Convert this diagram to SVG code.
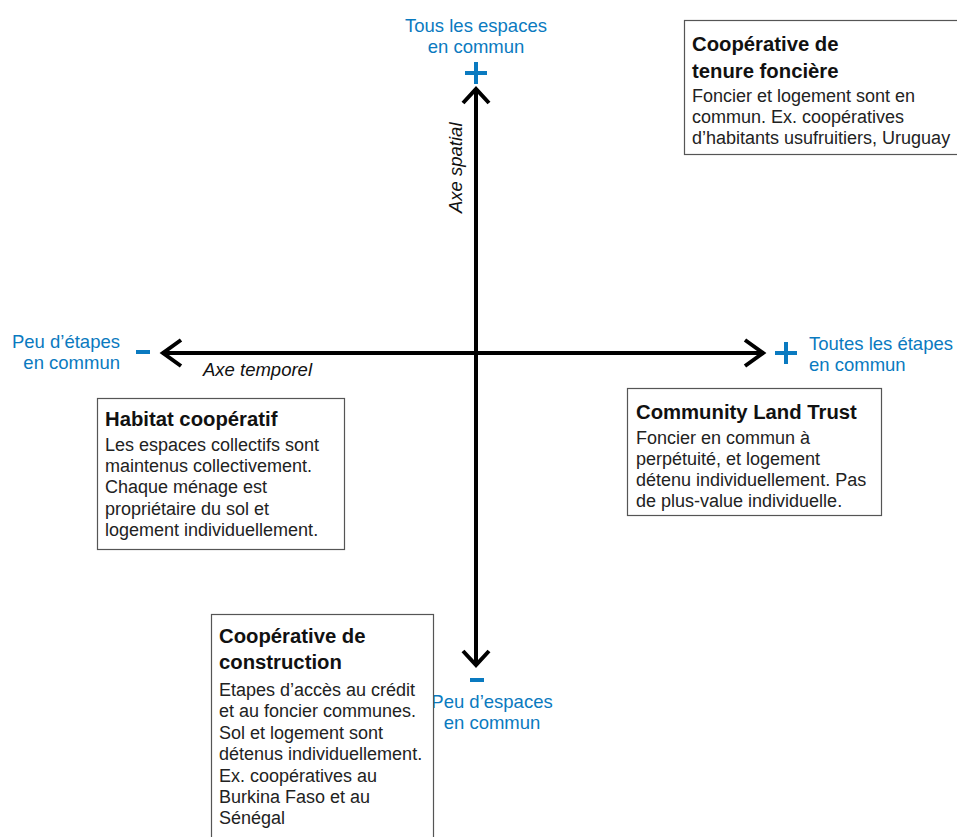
<svg xmlns="http://www.w3.org/2000/svg" width="957" height="837" viewBox="0 0 957 837">
<style>
.bg{fill:#ffffff}
.axis{stroke:#000;stroke-width:4;fill:none;stroke-linecap:butt}
.head{stroke:#000;stroke-width:4;fill:none;stroke-linecap:butt;stroke-linejoin:miter}
.sign{fill:#0a7ac0}
.blue{font-family:"Liberation Sans",Arial,sans-serif;font-size:18.5px;fill:#0a7ac0}
.ax{font-family:"Liberation Sans",Arial,sans-serif;font-size:18.5px;font-style:italic;fill:#111}
.box{fill:#fff;stroke:#555;stroke-width:1.2}
.title{font-family:"Liberation Sans",Arial,sans-serif;font-size:20.3px;font-weight:bold;fill:#111}
.body{font-family:"Liberation Sans",Arial,sans-serif;font-size:18px;fill:#222}
</style>
<rect class="bg" x="0" y="0" width="957" height="837"/>

<g id="connectors">
  <line class="axis" x1="476" y1="90" x2="476" y2="665"/>
  <line class="axis" x1="162" y1="353" x2="764" y2="353"/>
  <polyline class="head" points="463,103 476,89 489,103"/>
  <polyline class="head" points="463,651 476,665 489,651"/>
  <polyline class="head" points="181,340 163,353 181,366"/>
  <polyline class="head" points="745,340 763,353 745,366"/>
</g>

<g id="axis-labels">
  <text class="ax" x="203" y="376">Axe temporel</text>
  <text class="ax" transform="translate(462,213) rotate(-90)" x="0" y="0">Axe spatial</text>
</g>

<g id="pole-top">
  <rect class="sign" x="465" y="71" width="22" height="4"/>
  <rect class="sign" x="474" y="62" width="4" height="22"/>
  <text class="blue" x="476" y="32" text-anchor="middle">Tous les espaces</text>
  <text class="blue" x="476" y="53" text-anchor="middle">en commun</text>
</g>

<g id="pole-bottom">
  <rect class="sign" x="470" y="678" width="14" height="4"/>
  <text class="blue" x="492" y="708" text-anchor="middle">Peu d’espaces</text>
  <text class="blue" x="492" y="729" text-anchor="middle">en commun</text>
</g>

<g id="pole-left">
  <rect class="sign" x="136" y="350" width="14" height="4"/>
  <text class="blue" x="120" y="348" text-anchor="end">Peu d’étapes</text>
  <text class="blue" x="120" y="369" text-anchor="end">en commun</text>
</g>

<g id="pole-right">
  <rect class="sign" x="775" y="351" width="22" height="4"/>
  <rect class="sign" x="784" y="342" width="4" height="22"/>
  <text class="blue" x="809" y="350">Toutes les étapes</text>
  <text class="blue" x="809" y="371">en commun</text>
</g>

<g id="node-tenure">
  <rect class="box" x="684.5" y="20.5" width="290" height="134"/>
  <text class="title" x="692" y="51">Coopérative de</text>
  <text class="title" x="692" y="78">tenure foncière</text>
  <text class="body" x="692" y="102">Foncier et logement sont en</text>
  <text class="body" x="692" y="123">commun. Ex. coopératives</text>
  <text class="body" x="692" y="144">d’habitants usufruitiers, Uruguay</text>
</g>

<g id="node-habitat">
  <rect class="box" x="97.5" y="398.5" width="247" height="151"/>
  <text class="title" x="105" y="426">Habitat coopératif</text>
  <text class="body" x="105" y="451">Les espaces collectifs sont</text>
  <text class="body" x="105" y="472">maintenus collectivement.</text>
  <text class="body" x="105" y="493">Chaque ménage est</text>
  <text class="body" x="105" y="515">propriétaire du sol et</text>
  <text class="body" x="105" y="536">logement individuellement.</text>
</g>

<g id="node-clt">
  <rect class="box" x="627.5" y="388.5" width="254" height="127"/>
  <text class="title" x="636" y="419">Community Land Trust</text>
  <text class="body" x="636" y="444">Foncier en commun à</text>
  <text class="body" x="636" y="465">perpétuité, et logement</text>
  <text class="body" x="636" y="486">détenu individuellement. Pas</text>
  <text class="body" x="636" y="507">de plus-value individuelle.</text>
</g>

<g id="node-construction">
  <rect class="box" x="211.5" y="614.5" width="222" height="240"/>
  <text class="title" x="219" y="643">Coopérative de</text>
  <text class="title" x="219" y="669">construction</text>
  <text class="body" x="219" y="696">Etapes d’accès au crédit</text>
  <text class="body" x="219" y="717">et au foncier communes.</text>
  <text class="body" x="219" y="739">Sol et logement sont</text>
  <text class="body" x="219" y="760">détenus individuellement.</text>
  <text class="body" x="219" y="782">Ex. coopératives au</text>
  <text class="body" x="219" y="803">Burkina Faso et au</text>
  <text class="body" x="219" y="824">Sénégal</text>
</g>
</svg>
